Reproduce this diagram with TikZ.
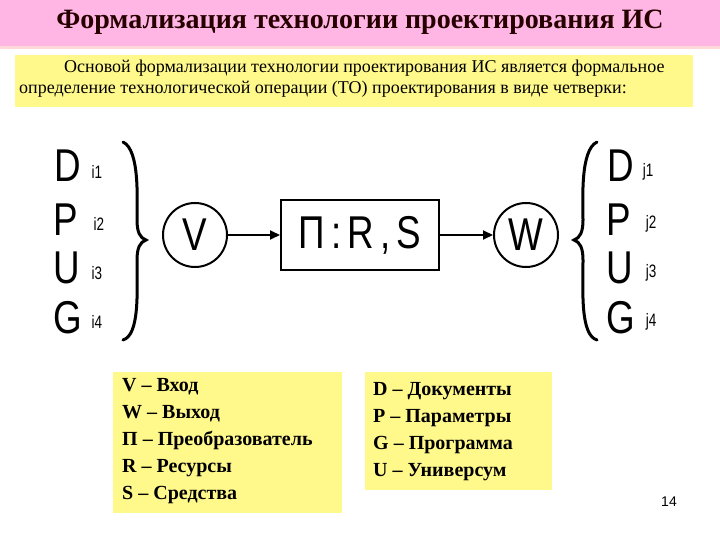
\documentclass[tikz,border=0pt]{standalone}
\usepackage{fontspec}
\setmainfont{Liberation Serif}
\newfontfamily\ls{Liberation Sans}
\usetikzlibrary{arrows.meta}
\begin{document}
\begin{tikzpicture}[x=1pt,y=-1pt,
  letter/.style={font=\ls\fontsize{46}{46}\selectfont,anchor=center,inner sep=0pt,xscale=0.8},
  sub/.style={font=\ls\fontsize{18}{18}\selectfont,anchor=center,inner sep=0pt,xscale=0.75},
  circ/.style={draw,line width=2pt,circle,minimum size=64pt,inner sep=0pt},
  yel/.style={fill=yellow!45!white,draw=none},
  arr/.style={line width=2pt,-{Triangle[length=10pt,width=9pt]}},
  brace/.style={line width=3pt,line cap=round},
  lg/.style={anchor=north west,align=left,font=\bfseries\fontsize{20}{27}\selectfont,inner sep=0pt}]
\useasboundingbox (0,0) rectangle (720,540);
\fill[white] (0,0) rectangle (720,540);
\fill[pink!70!magenta!60!white] (0,0) rectangle (720,46);
\fill[pink!60!white] (0,46) rectangle (720,49);
\node[font=\bfseries\fontsize{28}{28}\selectfont,color=black!85!red] (title) at (360,22) {Формализация технологии проектирования ИС};
\fill[yel] (15,55) rectangle (693,107);
\node[anchor=north west,align=left,font=\fontsize{18}{21}\selectfont,inner sep=0pt] (intro) at (19,60)
 {\hspace*{45pt}Основой формализации технологии проектирования ИС является формальное\\
 определение технологической операции (ТО) проектирования в виде четверки:};
% left letters
\node[letter] (Dl) at (68,166) {D}; \node[sub] (dli) at (97,172) {i1};
\node[letter] (Pl) at (66,220) {P}; \node[sub] (pli) at (99,224) {i2};
\node[letter] (Ul) at (67,268) {U}; \node[sub] (uli) at (97,273) {i3};
\node[letter] (Gl) at (68,318) {G}; \node[sub] (gli) at (97,322) {i4};
\draw[brace] (123,142) .. controls (140,150) and (137,200) .. (137,220) .. controls (137,232) and (140,238) .. (146,240)
  .. controls (140,242) and (137,248) .. (137,260) .. controls (137,290) and (140,335) .. (123,340);
\node[circ] (V) at (195,235) {};
\node[letter] (Vt) at (V) {V};
\node[draw,line width=2pt,minimum width=158pt,minimum height=70pt,inner sep=0pt] (P) at (360,235) {};
\node[letter] (Pt) at (P) {П\,:\,R\,,\,S};
\node[circ] (W) at (526,235) {};
\node[letter] (Wt) at (W) {W};
\draw[arr] (V) -- (P);
\draw[arr] (P) -- (W);
% right
\draw[brace] (597,142) .. controls (580,150) and (583,200) .. (583,220) .. controls (583,232) and (580,238) .. (574,240)
  .. controls (580,242) and (583,248) .. (583,260) .. controls (583,290) and (580,335) .. (597,340);
\node[letter] (Dr) at (621,166) {D}; \node[sub] (drj) at (648,172) {j1};
\node[letter] (Pr) at (619,220) {P}; \node[sub] (prj) at (651,224) {j2};
\node[letter] (Ur) at (620,268) {U}; \node[sub] (urj) at (651,273) {j3};
\node[letter] (Gr) at (621,318) {G}; \node[sub] (grj) at (651,322) {j4};
% legends
\fill[yel] (113,372) rectangle (342,513);
\node[lg] (leg1) at (122,378) {V – Вход\\W – Выход\\П – Преобразователь\\R – Ресурсы\\S – Средства};
\fill[yel] (365,372) rectangle (552,490);
\node[lg] (leg2) at (373,382) {D – Документы\\P – Параметры\\G – Программа\\U – Универсум};
\node[font=\ls\fontsize{14}{14}\selectfont] (pg) at (669,502) {14};
\end{tikzpicture}
\end{document}
